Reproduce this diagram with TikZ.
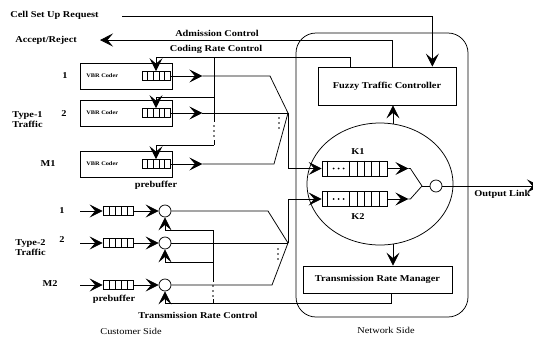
\documentclass[tikz,border=0pt]{standalone}
\usepackage{fontspec}
\setmainfont{Liberation Serif}[FakeStretch=1.15]
\usetikzlibrary{arrows.meta,positioning,calc,shapes.geometric}
\tikzset{big/.style={-{Stealth[length=13pt,width=13pt,inset=5.5pt]}},
         lbl/.style={font=\fontsize{9}{10}\selectfont\bfseries, inner sep=0pt, align=left},
         reg/.style={font=\fontsize{9}{10}\selectfont, inner sep=0pt},
         coder/.style={draw, rectangle, minimum width=92pt, minimum height=26pt, inner sep=0pt},
         buf/.style={draw, rectangle, minimum width=28pt, minimum height=9pt, inner sep=0pt},
         kbuf/.style={draw, rectangle, minimum width=65pt, minimum height=15pt, inner sep=0pt},
         joint/.style={draw, circle, minimum size=12pt, inner sep=0pt},
         ctrl/.style={draw, rectangle, font=\fontsize{9}{10}\selectfont\bfseries}
}

\begin{document}
\begin{tikzpicture}[x=1pt, y=-1pt, line width=0.75pt]
      \useasboundingbox (0,0) rectangle (533,338);
      % network side
      \node[draw, rounded corners=20pt, minimum width=172pt, minimum height=284pt] (net) at (382,175) {};
      \node[ctrl, minimum width=138pt, minimum height=38pt] (fuzzy) at (387,86) {Fuzzy Traffic Controller};
      \node[ctrl, minimum width=149pt, minimum height=27pt] (trm) at (377.5,279.5) {Transmission Rate Manager};
      \node[draw, ellipse, minimum width=146pt, minimum height=122pt, inner sep=0pt] (mux) at (380,184) {};
      \node[kbuf] (k1) at (354.5,168.5) {};
      \node[kbuf] (k2) at (354.5,199) {};
      \foreach \k in {k1,k2} {
        \foreach \d in {6,28,35.4,42.8,50.2,57.6}
          \draw ($(\k.north west)+(\d,0)$) -- ($(\k.south west)+(\d,0)$);
        \foreach \d in {12,17,22}
          \fill ($(\k.west)+(\d,0)$) circle (0.9);
      }
      \node[lbl] (lk1) at (358,152) {K1};
      \node[lbl] (lk2) at (358,217) {K2};
      \node[joint] (o) at (436,186) {};
      \coordinate (jn) at (422,186);
      \coordinate (out) at (540,186);
      \draw[big] (k1.east) -- ++(21,0);
      \draw (k1.east) ++(21,0) -- ++(2,0) -- (jn);
      \draw[big] (k2.east) -- ++(21,0);
      \draw (k2.east) ++(21,0) -- ++(2,0) -- (jn);
      \draw (jn) -- (o.west);
      \draw[big] (o.east) -- (out);
      \node[lbl, anchor=west] (olink) at (474,194) {Output Link};
      \draw[big] ($(mux.north)+(13,1)$) coordinate (m1) -- (m1 |- fuzzy.south);
      \draw[big] ($(mux.south)+(13,-1)$) coordinate (m2) -- (m2 |- trm.north);

      % control lines at the top
      \node[lbl, anchor=west] (csr) at (10,15) {Cell Set Up Request};
      \node[lbl, anchor=west] (ar) at (15,40) {Accept/Reject};
      \node[lbl] (adm) at (217,33) {Admission Control};
      \node[lbl] (crc) at (216,49) {Coding Rate Control};
      \coordinate (csu) at (122,16);
      \coordinate (acc) at (100,40);
      \coordinate (crl) at (156,57);
      \draw[big] (csu) -| ($(fuzzy.north east)+(-24,0)$);
      \draw[big] ($(fuzzy.north west)+(75,0)$) |- (acc);

      % type-1 traffic
      \foreach \n/\y in {1/76,2/113,3/164} {
        \node[coder] (c\n) at (126,\y) {};
        \node[font=\fontsize{5.5}{6}\selectfont\bfseries, anchor=west] (t\n) at ($(c\n.west)+(3,0)$) {VBR Coder};
        \node[buf] (b\n) at (156,\y) {};
        \draw[big] (b\n.east) -- ++(32,0);
      }
      \draw[big] ($(fuzzy.north west)+(33,0)$) |- (crl) -- (b1.north);
      \node[lbl] (n1) at (65,76) {1};
      \node[lbl] (n2) at (64,114) {2};
      \node[lbl] (nm1) at (48,164) {M1};
      \node[lbl, anchor=west] (ty1) at (12,120) {Type-1\\Traffic};
      \node[lbl] (pb1) at (156,185) {prebuffer};
      \coordinate (mx1) at (288,113);
      \draw (b1.east) ++(32,0) -- (270,76) -- (mx1);
      \draw (b2.east) ++(32,0) -- (mx1);
      \draw (b3.east) ++(32,0) -- (274,164) -- (mx1);
      \draw[big] (mx1) |- (k1.west);
      \draw (214,57) -- (214,122);
      \draw (214,140) -- (214,145);
      \draw[big] (214,97) -| (b2.north);
      \draw[big] (214,145) -| (b3.north);

      % type-2 traffic
      \foreach \n/\y in {1/211,2/243,3/285} {
        \coordinate (in\n) at (80,\y);
        \node[buf, minimum width=30pt] (d\n) at (118,\y) {};
        \node[joint] (e\n) at (165,\y) {};
        \draw[big] (in\n) -- (d\n.west);
        \draw[big] (d\n.east) -- (e\n.west);
      }
      \foreach \b in {b1,b2,b3,d1,d2,d3}
        \foreach \k in {1,...,4}
          \draw[line width=0.5pt] ($(\b.south west)!\k/5!(\b.south east)$) -- ($(\b.north west)!\k/5!(\b.north east)$);
      \node[lbl] (n3) at (62,211) {1};
      \node[lbl] (n4) at (62,240) {2};
      \node[lbl] (nm2) at (50,284) {M2};
      \node[lbl, anchor=west] (ty2) at (15,248) {Type-2\\Traffic};
      \node[lbl] (pb2) at (114,299) {prebuffer};
      \coordinate (mx2) at (288,243);
      \draw (e1.east) -- (268,211) -- (mx2);
      \draw (e2.east) -- (mx2);
      \draw (e3.east) -- (272,285) -- (mx2);
      \draw[big] (mx2) |- (k2.west);
      \coordinate (trc) at (391,303);
      \draw[big] (trc |- trm.south) -- (trc) -| (e3.south);
      \draw (213,230) -- (213,282);
      \draw (213,299) -- (213,303);
      \draw[big] (213,230) -| (e1.south);
      \draw[big] (213,262) -| (e2.south);
      \node[lbl] (trcl) at (198,315) {Transmission Rate Control};

      % dots
      \foreach \y in {126,131,136} \fill (214,\y) circle (0.9);
      \foreach \y in {286,291,296} \fill (213,\y) circle (0.9);
      \foreach \y in {118,123,128} \fill (279,\y) circle (0.9);
      \foreach \y in {249,254,259} \fill (278,\y) circle (0.9);

      \node[reg] (cs) at (131,331) {Customer Side};
      \node[reg] (ns) at (386,330) {Network Side};
\end{tikzpicture}
\end{document}
